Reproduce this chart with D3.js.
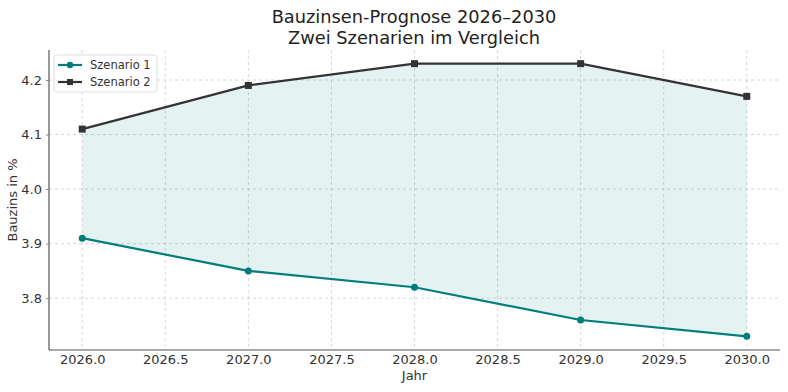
<!DOCTYPE html>
<html>
<head>
<meta charset="utf-8">
<script src="https://cdn.jsdelivr.net/npm/d3@7"></script>
<style>
  body { margin: 0; background: #fff; }
  svg { font-family: "DejaVu Sans", sans-serif; }
</style>
</head>
<body>
<svg id="chart" width="788" height="392"></svg>
<script>
// data
var years = [2026, 2027, 2028, 2029, 2030];
var szenario1 = [3.91, 3.85, 3.82, 3.76, 3.73];
var szenario2 = [4.11, 4.19, 4.23, 4.23, 4.17];
var xTicks = [2026.0, 2026.5, 2027.0, 2027.5, 2028.0, 2028.5, 2029.0, 2029.5, 2030.0];
var yTicks = [3.8, 3.9, 4.0, 4.1, 4.2];

var margin = { left: 49, right: 8, top: 50, bottom: 42 };
var width = 788 - margin.left - margin.right;
var height = 392 - margin.top - margin.bottom;

var svg = d3.select("#chart");
var g = svg.append("g").attr("transform", "translate(" + margin.left + "," + margin.top + ")");

var x = d3.scaleLinear().domain([2025.8, 2030.2]).range([0, width]);
var y = d3.scaleLinear().domain([3.705, 4.255]).range([height, 0]);

// grid
g.selectAll(".vgrid").data(xTicks).enter().append("line")
    .attr("x1", d => x(d)).attr("x2", d => x(d))
    .attr("y1", 0).attr("y2", height)
    .attr("stroke", "#cccccc").attr("stroke-width", 0.8).attr("stroke-dasharray", "3,3");
g.selectAll(".hgrid").data(yTicks).enter().append("line")
    .attr("x1", 0).attr("x2", width)
    .attr("y1", d => y(d)).attr("y2", d => y(d))
    .attr("stroke", "#cccccc").attr("stroke-width", 0.8).attr("stroke-dasharray", "3,3");

// fill between
var rows = years.map((d, i) => ({ year: d, a: szenario1[i], b: szenario2[i] }));
var area = d3.area().x(d => x(d.year)).y0(d => y(d.a)).y1(d => y(d.b));
g.append("path").datum(rows).attr("d", area).attr("fill", "#008080").attr("fill-opacity", 0.1);

// lines
var line = d3.line().x(d => x(d[0])).y(d => y(d[1]));
var s1 = years.map((d, i) => [d, szenario1[i]]);
var s2 = years.map((d, i) => [d, szenario2[i]]);

g.append("path").datum(s1).attr("d", line).attr("fill", "none")
    .attr("stroke", "#007f7a").attr("stroke-width", 2.2);
g.selectAll(".dot1").data(s1).enter().append("circle")
    .attr("cx", d => x(d[0])).attr("cy", d => y(d[1])).attr("r", 3.5).attr("fill", "#007f7a");

g.append("path").datum(s2).attr("d", line).attr("fill", "none")
    .attr("stroke", "#333333").attr("stroke-width", 2.2);
g.selectAll(".sq2").data(s2).enter().append("rect")
    .attr("x", d => x(d[0]) - 3.5).attr("y", d => y(d[1]) - 3.5)
    .attr("width", 7).attr("height", 7).attr("fill", "#333333");

// axes
var xAxis = g.append("g").attr("transform", "translate(0," + height + ")")
    .call(d3.axisBottom(x).tickValues(xTicks).tickFormat(d3.format(".1f")).tickSizeOuter(0).tickSize(0).tickPadding(5));
var yAxis = g.append("g")
    .call(d3.axisLeft(y).tickValues(yTicks).tickFormat(d3.format(".1f")).tickSizeOuter(0).tickSize(3).tickPadding(4));
[xAxis, yAxis].forEach(a => {
    a.select(".domain").attr("stroke", "#555555").attr("stroke-width", 1.2);
    a.selectAll(".tick line").attr("stroke", "#888888");
    a.selectAll(".tick text").attr("fill", "#333333").attr("font-size", "13px")
        .attr("font-family", "DejaVu Sans, sans-serif");
});
xAxis.select(".domain").attr("d", "M0,0H" + width);
yAxis.select(".domain").attr("d", "M0," + height + "V0");

// labels
svg.append("text").attr("x", margin.left + width / 2).attr("y", 380)
    .attr("text-anchor", "middle").attr("font-size", "13px").attr("fill", "#333").text("Jahr");
svg.append("text").attr("transform", "translate(17," + (margin.top + height / 2) + ") rotate(-90)")
    .attr("text-anchor", "middle").attr("font-size", "13px").attr("fill", "#333").text("Bauzins in %");

// title
svg.append("text").attr("x", 414).attr("y", 23).attr("text-anchor", "middle")
    .attr("font-size", "17.8px").attr("fill", "#222").text("Bauzinsen-Prognose 2026–2030");
svg.append("text").attr("x", 414).attr("y", 44).attr("text-anchor", "middle")
    .attr("font-size", "17.8px").attr("fill", "#222").text("Zwei Szenarien im Vergleich");

// legend
var leg = svg.append("g").attr("transform", "translate(54,55)");
leg.append("rect").attr("width", 103).attr("height", 37).attr("rx", 3)
    .attr("fill", "#fff").attr("fill-opacity", 0.85).attr("stroke", "#dddddd");
var legItems = [
    { name: "Szenario 1", color: "#007f7a", shape: "circle" },
    { name: "Szenario 2", color: "#333333", shape: "square" }
];
legItems.forEach((d, i) => {
    var yy = 10 + i * 17;
    leg.append("line").attr("x1", 4).attr("x2", 28).attr("y1", yy).attr("y2", yy)
        .attr("stroke", d.color).attr("stroke-width", 2.2);
    if (d.shape === "circle") {
        leg.append("circle").attr("cx", 16).attr("cy", yy).attr("r", 3.2).attr("fill", d.color);
    } else {
        leg.append("rect").attr("x", 13).attr("y", yy - 3).attr("width", 6).attr("height", 6).attr("fill", d.color);
    }
    leg.append("text").attr("x", 36).attr("y", yy + 4).attr("font-size", "11.5px")
        .attr("fill", "#333").text(d.name);
});
</script>
</body>
</html>
